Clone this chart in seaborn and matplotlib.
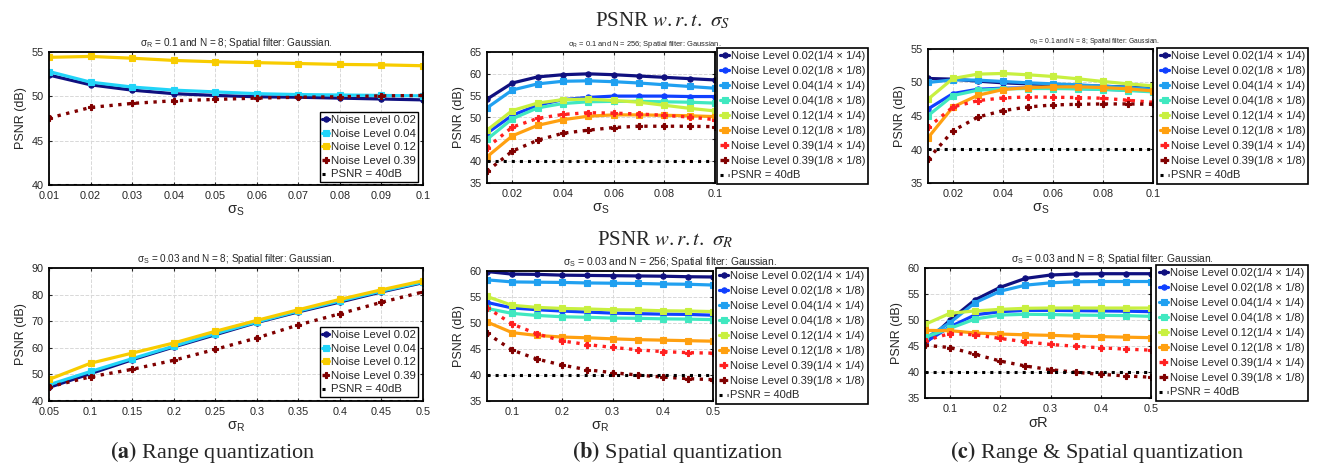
import numpy as np
import pandas as pd
import matplotlib
matplotlib.use("Agg")
import matplotlib.pyplot as plt
import seaborn as sns

sns.set_style("white")
plt.rcParams['font.family'] = ['Liberation Sans', 'DejaVu Sans']
plt.rcParams['mathtext.fontset'] = 'stix'

# ---------------- data ----------------
sigma_s = [0.01, 0.02, 0.03, 0.04, 0.05, 0.06, 0.07, 0.08, 0.09, 0.10]
sigma_r = [0.05, 0.10, 0.15, 0.20, 0.25, 0.30, 0.35, 0.40, 0.45, 0.50]
psnr_threshold = 40

# (a) range quantization
a_labels = ["Noise Level 0.02", "Noise Level 0.04", "Noise Level 0.12", "Noise Level 0.39"]
a_top_002 = [52.4, 51.3, 50.7, 50.3, 50.1, 49.95, 49.9, 49.8, 49.7, 49.6]
a_top_004 = [52.8, 51.6, 51.05, 50.7, 50.5, 50.3, 50.2, 50.15, 50.1, 50.05]
a_top_012 = [54.4, 54.5, 54.3, 54.05, 53.9, 53.8, 53.7, 53.6, 53.55, 53.45]
a_top_039 = [47.55, 48.75, 49.2, 49.5, 49.65, 49.8, 49.9, 49.95, 50.05, 50.1]
a_bot_002 = [45.1, 50.3, 55.5, 60.3, 64.9, 69.5, 73.5, 77.2, 81.0, 84.5]
a_bot_004 = [46.1, 51.1, 55.9, 60.6, 65.3, 69.7, 73.8, 77.6, 81.3, 84.7]
a_bot_012 = [48.1, 54.2, 58.0, 61.8, 66.2, 70.3, 74.3, 78.2, 81.8, 85.2]
a_bot_039 = [45.3, 49.1, 51.9, 55.3, 59.4, 63.7, 68.6, 72.8, 77.1, 81.0]

# (b), (c) eight series
bc_labels = ["Noise Level 0.02(1/4 \u00d7 1/4)", "Noise Level 0.02(1/8 \u00d7 1/8)",
             "Noise Level 0.04(1/4 \u00d7 1/4)", "Noise Level 0.04(1/8 \u00d7 1/8)",
             "Noise Level 0.12(1/4 \u00d7 1/4)", "Noise Level 0.12(1/8 \u00d7 1/8)",
             "Noise Level 0.39(1/4 \u00d7 1/4)", "Noise Level 0.39(1/8 \u00d7 1/8)"]
threshold_label = "PSNR = 40dB"

b_top_002_4 = [54.2, 57.9, 59.3, 59.8, 60.0, 59.8, 59.5, 59.2, 58.9, 58.6]
b_top_002_8 = [46.4, 50.5, 52.8, 54.1, 54.6, 54.9, 54.9, 54.9, 54.8, 54.8]
b_top_004_4 = [52.2, 56.3, 57.7, 58.3, 58.4, 58.2, 57.9, 57.5, 57.1, 56.7]
b_top_004_8 = [45.0, 49.7, 52.2, 53.2, 53.6, 53.7, 53.7, 53.6, 53.5, 53.3]
b_top_012_4 = [47.1, 51.6, 53.3, 54.1, 54.2, 53.9, 53.5, 52.8, 52.1, 51.5]
b_top_012_8 = [41.0, 45.8, 48.2, 49.5, 50.3, 50.6, 50.6, 50.5, 50.4, 50.2]
b_top_039_4 = [43.1, 47.8, 49.8, 50.7, 51.1, 51.0, 50.8, 50.5, 50.1, 49.5]
b_top_039_8 = [37.7, 42.3, 44.8, 46.4, 47.1, 47.7, 48.0, 48.0, 48.0, 47.9]

b_bot_002_4 = [59.9, 59.4, 59.35, 59.2, 59.15, 59.1, 59.05, 59.0, 58.9, 58.85]
b_bot_002_8 = [53.95, 52.9, 52.55, 52.3, 52.1, 51.9, 51.8, 51.7, 51.65, 51.5]
b_bot_004_4 = [58.3, 57.9, 57.85, 57.8, 57.7, 57.65, 57.6, 57.5, 57.45, 57.3]
b_bot_004_8 = [52.8, 51.85, 51.45, 51.2, 51.1, 50.95, 50.9, 50.8, 50.75, 50.65]
b_bot_012_4 = [55.1, 53.4, 53.0, 52.8, 52.7, 52.55, 52.5, 52.35, 52.3, 52.2]
b_bot_012_8 = [50.2, 48.15, 47.6, 47.3, 47.15, 46.95, 46.8, 46.7, 46.6, 46.5]
b_bot_039_4 = [52.95, 49.8, 47.9, 46.55, 45.85, 45.3, 44.85, 44.5, 44.3, 44.2]
b_bot_039_8 = [48.0, 44.8, 43.05, 41.9, 41.0, 40.45, 40.0, 39.6, 39.3, 39.1]

c_top_002_4 = [50.6, 50.5, 50.2, 49.95, 49.8, 49.65, 49.55, 49.45, 49.3, 49.1]
c_top_002_8 = [46.05, 48.35, 49.0, 49.15, 49.2, 49.15, 49.1, 49.0, 48.85, 48.75]
c_top_004_4 = [50.0, 50.4, 50.35, 50.15, 49.95, 49.8, 49.65, 49.45, 49.25, 49.0]
c_top_004_8 = [45.05, 48.05, 48.85, 49.05, 49.1, 49.1, 49.05, 48.95, 48.8, 48.6]
c_top_012_4 = [47.5, 50.6, 51.25, 51.35, 51.15, 50.9, 50.55, 50.15, 49.8, 49.5]
c_top_012_8 = [41.75, 46.35, 48.1, 48.95, 49.25, 49.35, 49.35, 49.25, 49.05, 48.75]
c_top_039_4 = [43.3, 46.35, 47.3, 47.7, 47.85, 47.8, 47.75, 47.65, 47.35, 47.05]
c_top_039_8 = [38.55, 42.8, 44.85, 45.8, 46.35, 46.65, 46.75, 46.8, 46.8, 46.75]

c_bot_002_4 = [45.5, 50.0, 53.9, 56.3, 58.0, 58.65, 58.85, 58.9, 58.9, 58.9]
c_bot_002_8 = [45.7, 48.7, 51.0, 51.6, 51.85, 51.85, 51.8, 51.75, 51.7, 51.6]
c_bot_004_4 = [46.45, 49.5, 53.35, 55.55, 56.7, 57.15, 57.35, 57.4, 57.4, 57.4]
c_bot_004_8 = [46.65, 48.4, 50.2, 50.95, 51.1, 51.05, 50.95, 50.9, 50.85, 50.7]
c_bot_012_4 = [49.15, 51.3, 51.75, 52.05, 52.25, 52.3, 52.3, 52.3, 52.3, 52.3]
c_bot_012_8 = [48.0, 47.95, 47.5, 47.3, 47.15, 47.05, 46.9, 46.8, 46.7, 46.6]
c_bot_039_4 = [46.05, 47.4, 47.15, 46.45, 45.8, 45.3, 44.95, 44.65, 44.4, 44.2]
c_bot_039_8 = [45.15, 44.7, 43.4, 42.1, 41.15, 40.45, 39.95, 39.55, 39.25, 39.0]

xt_a_top = [0.01, 0.02, 0.03, 0.04, 0.05, 0.06, 0.07, 0.08, 0.09, 0.1]
xl_a_top = ["0.01", "0.02", "0.03", "0.04", "0.05", "0.06", "0.07", "0.08", "0.09", "0.1"]
xt_a_bot = [0.05, 0.1, 0.15, 0.2, 0.25, 0.3, 0.35, 0.4, 0.45, 0.5]
xl_a_bot = ["0.05", "0.1", "0.15", "0.2", "0.25", "0.3", "0.35", "0.4", "0.45", "0.5"]
xt_bc_top = [0.02, 0.04, 0.06, 0.08, 0.1]
xl_bc_top = ["0.02", "0.04", "0.06", "0.08", "0.1"]
xt_bc_bot = [0.1, 0.2, 0.3, 0.4, 0.5]
xl_bc_bot = ["0.1", "0.2", "0.3", "0.4", "0.5"]

# ---------------- styles ----------------
a_colors = ["#10107f", "#22d4f8", "#f8cc00", "#800000"]
a_markers = ["o", "s", "s", "P"]
a_ls = ["-", "-", "-", ":"]
bc_colors = ["#10107f", "#1040ff", "#20a0f0", "#40e8c0", "#c8f040", "#ffa010", "#ff2020", "#800000"]
bc_markers = ["o", "o", "s", "s", "s", "s", "P", "P"]
bc_ls = ["-", "-", "-", "-", "-", "-", ":", ":"]

W, H = 1318, 465
fig = plt.figure(figsize=(W / 100, H / 100), dpi=100)


def rect(l, r, t, b):
    return [l / W, 1 - b / H, (r - l) / W, (b - t) / H]


def draw(ax, xs, series, labels, colors, markers, lss):
    for ys, lab, c, m, ls in zip(series, labels, colors, markers, lss):
        sns.lineplot(x=xs, y=ys, ax=ax, color=c, linewidth=2.3 if ls == '-' else 2.4,
                     linestyle=ls, marker=m, markersize=3.8, markeredgecolor=c,
                     markerfacecolor=c, markeredgewidth=0.8, label=lab)
    sns.lineplot(x=[xs[0], xs[-1]], y=[psnr_threshold, psnr_threshold], ax=ax,
                 color="black", linestyle=":", linewidth=2.2, label=threshold_label)


def style(ax, xlim, ylim, yt, xt, xl, title, title_x, title_fs, xlabel):
    ax.set_xlim(*xlim)
    ax.set_ylim(*ylim)
    ax.set_yticks(yt)
    ax.set_yticklabels([str(v) for v in yt])
    ax.set_xticks(xt)
    ax.set_xticklabels(xl)
    ax.grid(True, linestyle='--', color='#d8d8d8', linewidth=0.7)
    ax.set_axisbelow(True)
    for s in ax.spines.values():
        s.set_color('black')
        s.set_linewidth(1.3)
    ax.tick_params(direction='in', length=2.5, width=0.8, labelsize=7.8, pad=4,
                   top=True, right=True, bottom=True, left=True)
    ax.set_ylabel("PSNR (dB)", fontsize=9, labelpad=3)
    ax.set_xlabel(xlabel, fontsize=10.5, labelpad=2)
    ax.set_title(title, fontsize=title_fs, x=title_x, pad=4)


def inner_legend(ax, corner):
    h, l = ax.get_legend_handles_labels()
    x1, y1 = corner
    ax.legend(h, l, loc='lower right', bbox_to_anchor=(x1 / W, 1 - y1 / H),
              bbox_transform=fig.transFigure, borderaxespad=0,
              fontsize=8.2, handlelength=0.6, handletextpad=0.12, labelspacing=0.32,
              borderpad=0.22, frameon=True, fancybox=False, edgecolor='black',
              framealpha=1)
    ax.get_legend().get_frame().set_linewidth(1.0)


def outer_legend(ax, box):
    h, l = ax.get_legend_handles_labels()
    x0, x1, y0, y1 = box
    ax.legend(h, l, loc='upper left',
              bbox_to_anchor=(x0 / W, 1 - y1 / H, (x1 - x0) / W, (y1 - y0) / H),
              bbox_transform=fig.transFigure, mode='expand', borderaxespad=0,
              fontsize=8.0, handlelength=0.8, handletextpad=0.2, labelspacing=0.44,
              borderpad=0.3, frameon=True, fancybox=False, edgecolor='black',
              framealpha=1)
    ax.get_legend().get_frame().set_linewidth(1.2)


sR = r"$\mathregular{\sigma_R}$"
sS = r"$\mathregular{\sigma_S}$"

# (a) top
ax = fig.add_axes(rect(49, 423, 52, 185))
draw(ax, sigma_s, [a_top_002, a_top_004, a_top_012, a_top_039], a_labels, a_colors, a_markers, a_ls)
style(ax, (0.01, 0.1), (40, 55), [40, 45, 50, 55], xt_a_top, xl_a_top,
      sR + " = 0.1 and N = 8; Spatial filter: Gaussian.", 0.5, 7.2, sS)
inner_legend(ax, (418, 182))

# (a) bottom
ax = fig.add_axes(rect(49, 423, 268, 401))
draw(ax, sigma_r, [a_bot_002, a_bot_004, a_bot_012, a_bot_039], a_labels, a_colors, a_markers, a_ls)
style(ax, (0.05, 0.5), (40, 90), [40, 50, 60, 70, 80, 90], xt_a_bot, xl_a_bot,
      sS + " = 0.03 and N = 8; Spatial filter: Gaussian.", 0.5, 7.2, sR)
inner_legend(ax, (418, 397))

# (b) top
ax = fig.add_axes(rect(487, 715, 52, 183))
draw(ax, sigma_s, [b_top_002_4, b_top_002_8, b_top_004_4, b_top_004_8, b_top_012_4,
                   b_top_012_8, b_top_039_4, b_top_039_8], bc_labels, bc_colors, bc_markers, bc_ls)
style(ax, (0.01, 0.1), (35, 65), [35, 40, 45, 50, 55, 60, 65], xt_bc_top, xl_bc_top,
      sR + " = 0.1 and N = 256; Spatial filter: Gaussian.", 0.69, 5.4, sS)
outer_legend(ax, (717, 868, 48, 183))

# (b) bottom
ax = fig.add_axes(rect(487, 713, 271, 401))
draw(ax, sigma_r, [b_bot_002_4, b_bot_002_8, b_bot_004_4, b_bot_004_8, b_bot_012_4,
                   b_bot_012_8, b_bot_039_4, b_bot_039_8], bc_labels, bc_colors, bc_markers, bc_ls)
style(ax, (0.05, 0.5), (35, 60), [35, 40, 45, 50, 55, 60], xt_bc_bot, xl_bc_bot,
      sS + " = 0.03 and N = 256; Spatial filter: Gaussian.", 0.81, 7.4, sR)
outer_legend(ax, (716, 868, 268, 402))

# (c) top
ax = fig.add_axes(rect(928, 1153, 49, 183))
draw(ax, sigma_s, [c_top_002_4, c_top_002_8, c_top_004_4, c_top_004_8, c_top_012_4,
                   c_top_012_8, c_top_039_4, c_top_039_8], bc_labels, bc_colors, bc_markers, bc_ls)
style(ax, (0.01, 0.1), (35, 55), [35, 40, 45, 50, 55], xt_bc_top, xl_bc_top,
      sR + " = 0.1 and N = 8; Spatial filter: Gaussian.", 0.74, 4.9, sS)
outer_legend(ax, (1157, 1308, 48, 183))

# (c) bottom
ax = fig.add_axes(rect(925, 1151, 268, 398))
draw(ax, sigma_r, [c_bot_002_4, c_bot_002_8, c_bot_004_4, c_bot_004_8, c_bot_012_4,
                   c_bot_012_8, c_bot_039_4, c_bot_039_8], bc_labels, bc_colors, bc_markers, bc_ls)
style(ax, (0.05, 0.5), (35, 60), [35, 40, 45, 50, 55, 60], xt_bc_bot, xl_bc_bot,
      sS + " = 0.03 and N = 8; Spatial filter: Gaussian.", 0.83, 7.4, "\u03c3R")
outer_legend(ax, (1156, 1308, 265, 398))

# headings and captions
serif = ['Liberation Serif', 'DejaVu Serif']
fig.text(663 / W, 1 - 21 / H, r"PSNR $w.r.t.$ $\sigma_S$", ha='center', va='center',
         fontsize=15, family=serif)
fig.text(665 / W, 1 - 240 / H, r"PSNR $w.r.t.$ $\sigma_R$", ha='center', va='center',
         fontsize=15, family=serif)
fig.text(213 / W, 1 - 452 / H, r"$\mathbf{(a)}$ Range quantization", ha='center', va='center',
         fontsize=16, family=serif)
fig.text(678 / W, 1 - 452 / H, r"$\mathbf{(b)}$ Spatial quantization", ha='center', va='center',
         fontsize=16, family=serif)
fig.text(1097 / W, 1 - 452 / H, r"$\mathbf{(c)}$ Range & Spatial quantization", ha='center',
         va='center', fontsize=16, family=serif)

fig.savefig("out.png", dpi=100, facecolor='white')
